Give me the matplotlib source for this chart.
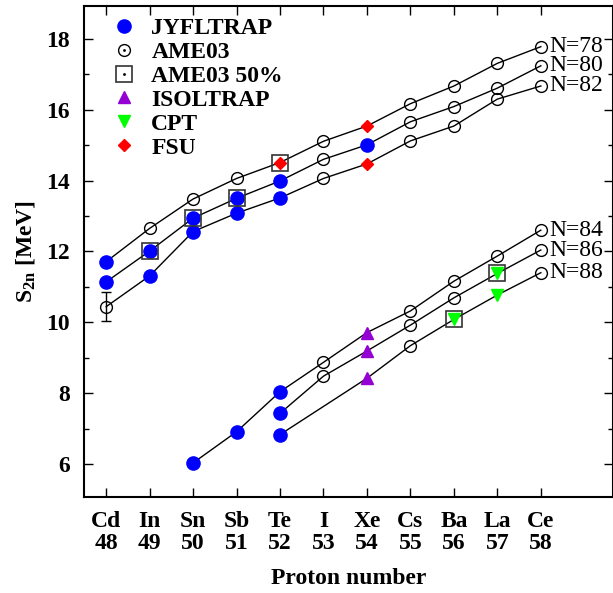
import matplotlib
matplotlib.use("Agg")
import matplotlib.pyplot as plt
from matplotlib.lines import Line2D
from matplotlib.ticker import MultipleLocator

plt.rcParams["font.family"] = ["Liberation Serif", "DejaVu Serif"]
plt.rcParams["font.weight"] = "bold"
plt.rcParams["mathtext.fontset"] = "custom"
plt.rcParams["mathtext.rm"] = "Liberation Serif:bold"
plt.rcParams["mathtext.it"] = "Liberation Serif:bold"
plt.rcParams["mathtext.bf"] = "Liberation Serif:bold"

elements = ["Cd", "In", "Sn", "Sb", "Te", "I", "Xe", "Cs", "Ba", "La", "Ce"]
protons = [48, 49, 50, 51, 52, 53, 54, 55, 56, 57, 58]

# S2n chains (MeV), source code per point:
# J=JYFLTRAP, A=AME03, I=ISOLTRAP, C=CPT, F=FSU ; sq=1 -> AME03 50% square
z78 = [48, 49, 50, 51, 52, 53, 54, 55, 56, 57, 58]
s78 = [11.71, 12.65, 13.48, 14.06, 14.51, 15.11, 15.54, 16.17, 16.67, 17.31, 17.78]
src78 = ["J", "A", "A", "A", "F", "A", "F", "A", "A", "A", "A"]
sq78 = [0, 0, 0, 0, 1, 0, 0, 0, 0, 0, 0]

z80 = [48, 49, 50, 51, 52, 53, 54, 55, 56, 57, 58]
s80 = [11.14, 12.01, 12.94, 13.50, 13.99, 14.60, 15.01, 15.66, 16.09, 16.61, 17.24]
src80 = ["J", "J", "J", "J", "J", "A", "J", "A", "A", "A", "A"]
sq80 = [0, 1, 1, 1, 0, 0, 0, 0, 0, 0, 0]

z82 = [48, 49, 50, 51, 52, 53, 54, 55, 56, 57, 58]
s82 = [10.44, 11.31, 12.56, 13.08, 13.51, 14.06, 14.47, 15.12, 15.54, 16.30, 16.67]
src82 = ["A", "J", "J", "J", "J", "A", "F", "A", "A", "A", "A"]
sq82 = [0, 0, 0, 0, 0, 0, 0, 0, 0, 0, 0]
err_cd82 = 0.41

z84 = [50, 51, 52, 53, 54, 55, 56, 57, 58]
s84 = [6.03, 6.91, 8.04, 8.87, 9.71, 10.32, 11.16, 11.87, 12.60]
src84 = ["J", "J", "J", "A", "I", "A", "A", "A", "A"]
sq84 = [0, 0, 0, 0, 0, 0, 0, 0, 0]

z86 = [52, 53, 54, 55, 56, 57, 58]
s86 = [7.43, 8.48, 9.19, 9.92, 10.69, 11.38, 12.04]
src86 = ["J", "A", "I", "A", "A", "C", "A"]
sq86 = [0, 0, 0, 0, 0, 1, 0]

z88 = [52, 54, 55, 56, 57, 58]
s88 = [6.83, 8.42, 9.34, 10.08, 10.77, 11.40]
src88 = ["J", "I", "A", "C", "C", "A"]
sq88 = [0, 0, 0, 1, 0, 0]

chains = [
    ("N=78", z78, s78, src78, sq78),
    ("N=80", z80, s80, src80, sq80),
    ("N=82", z82, s82, src82, sq82),
    ("N=84", z84, s84, src84, sq84),
    ("N=86", z86, s86, src86, sq86),
    ("N=88", z88, s88, src88, sq88),
]

styles = {
    "J": dict(marker="o", ms=9.5, mfc="#0000ff", mec="#0000ff"),
    "A": dict(marker="o", ms=8.5, mfc="none", mec="black", mew=1.0),
    "I": dict(marker="^", ms=8.5, mfc="#9400d3", mec="#9400d3"),
    "C": dict(marker="v", ms=8.5, mfc="#00ff00", mec="#00ff00"),
    "F": dict(marker="D", ms=6.5, mfc="#ff0000", mec="#ff0000"),
}

FS = 17

fig = plt.figure(figsize=(6.13, 5.93), dpi=100)
ax = fig.add_axes([0.137, 0.162, 0.863, 0.828])

for label, zs, ss, srcs, sqs in chains:
    ax.plot(zs, ss, color="black", lw=1.0, zorder=2)
    for code in styles:
        xs = [z for z, c in zip(zs, srcs) if c == code]
        ys = [s for s, c in zip(ss, srcs) if c == code]
        if xs:
            ax.plot(xs, ys, ls="none", zorder=3, **styles[code])
    xs = [z for z, q in zip(zs, sqs) if q]
    ys = [s for s, q in zip(ss, sqs) if q]
    if xs:
        ax.plot(xs, ys, ls="none", marker="s", ms=11, mfc="none", mec="#333333", mew=1.2, zorder=4)
    ax.annotate(label, (zs[-1], ss[-1]), xytext=(6, 0), textcoords="offset points",
                va="center", ha="left", fontsize=FS, fontweight="normal")

ax.errorbar([z82[0]], [s82[0]], yerr=[err_cd82], fmt="none", ecolor="black",
            elinewidth=1.0, capsize=3.5, capthick=1.0, zorder=2)

ax.set_xlim(47.49, 59.66)
ax.set_ylim(5.07, 18.93)
ax.set_xticks(protons)
ax.set_xticklabels([f"{e}\n{p}" for e, p in zip(elements, protons)], linespacing=1.1)
ax.yaxis.set_major_locator(MultipleLocator(2))
ax.yaxis.set_minor_locator(MultipleLocator(1))
ax.tick_params(which="both", direction="in", top=True, right=True, labelsize=FS)
ax.tick_params(which="major", length=6.5, width=1.0)
ax.tick_params(which="minor", length=3.5, width=1.0)
ax.tick_params(axis="x", pad=10)
ax.tick_params(axis="y", pad=10)
for sp in ax.spines.values():
    sp.set_linewidth(1.5)

ax.set_xlabel("Proton number", fontsize=FS, fontweight="bold", labelpad=10)
ax.set_ylabel(r"$\mathrm{S_{2n}}$ [MeV]", fontsize=FS, fontweight="bold", labelpad=7)

dot = dict(marker=".", ms=2, color="black", ls="none")
handles = [
    Line2D([], [], ls="none", **styles["J"]),
    (Line2D([], [], ls="none", **styles["A"]), Line2D([], [], **dot)),
    (Line2D([], [], ls="none", marker="s", ms=11, mfc="none", mec="#333333", mew=1.2),
     Line2D([], [], **dot)),
    Line2D([], [], ls="none", **styles["I"]),
    Line2D([], [], ls="none", **styles["C"]),
    Line2D([], [], ls="none", **styles["F"]),
]
labels = ["JYFLTRAP", "AME03", "AME03 50%", "ISOLTRAP", "CPT", "FSU"]
ax.legend(handles, labels, loc="upper left", bbox_to_anchor=(0.0225, 1.01), frameon=False,
          handlelength=1.0, handletextpad=0.65, labelspacing=0.1,
          borderaxespad=0.3, prop={"weight": "bold", "size": FS})

fig.savefig("out.png", dpi=100)
